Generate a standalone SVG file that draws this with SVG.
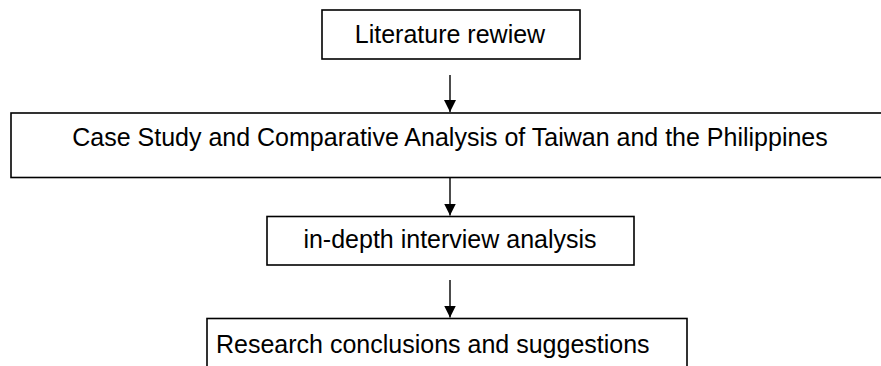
<svg xmlns="http://www.w3.org/2000/svg" width="881" height="366" viewBox="0 0 881 366">
<style>
.box{fill:#fff;stroke:#000;stroke-width:1.6}
.lbl{font-family:"Liberation Sans",Arial,sans-serif;font-size:25px;fill:#000}
.c{text-anchor:middle}
.conn line{stroke:#000;stroke-width:1.4}
</style>
<defs>
<marker id="ah" markerWidth="12" markerHeight="12" refX="12" refY="6" orient="auto" markerUnits="userSpaceOnUse">
<path d="M0,0 L12,6 L0,12 Z" fill="#000"/>
</marker>
</defs>
<rect width="881" height="366" fill="#fff"/>
<g id="n1">
<rect class="box" x="322" y="10" width="258" height="49"/>
<text class="lbl c" x="450" y="43">Literature rewiew</text>
</g>
<g id="n2">
<rect class="box" x="11" y="113" width="880" height="64.5"/>
<text class="lbl c" x="450" y="146">Case Study and Comparative Analysis of Taiwan and the Philippines</text>
</g>
<g id="n3">
<rect class="box" x="267" y="216.5" width="367" height="48.5"/>
<text class="lbl c" x="450" y="248">in-depth interview analysis</text>
</g>
<g id="n4">
<rect class="box" x="207" y="318.5" width="480" height="60"/>
<text class="lbl" x="216" y="353">Research conclusions and suggestions</text>
</g>
<g class="conn">
<line x1="450" y1="75" x2="450" y2="112" marker-end="url(#ah)"/>
<line x1="450" y1="178" x2="450" y2="215.5" marker-end="url(#ah)"/>
<line x1="450" y1="280" x2="450" y2="317.5" marker-end="url(#ah)"/>
</g>
</svg>
